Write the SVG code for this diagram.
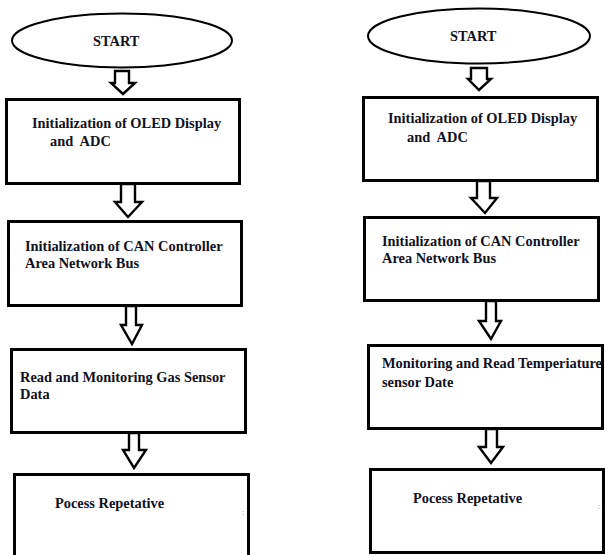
<svg xmlns="http://www.w3.org/2000/svg" width="605" height="555" viewBox="0 0 605 555">
<style>
.bg{fill:#ffffff}
.term{fill:#ffffff;stroke:#000;stroke-width:2}
.box{fill:#ffffff;stroke:#000;stroke-width:3}
.arr{fill:#ffffff;stroke:#000;stroke-width:2.4;stroke-linejoin:miter}
.t{font-family:"Liberation Serif","Times New Roman",serif;font-weight:bold;font-size:14.4px;fill:#111122}
.dot{font-family:"Liberation Sans",sans-serif;font-size:7px;fill:#4a6fa5}
</style>
<rect class="bg" x="0" y="0" width="605" height="555"/>

<g id="left-start">
<ellipse class="term" cx="122" cy="40.5" rx="110" ry="27"/>
<text class="t" x="93" y="46">START</text>
</g>
<g id="left-init-oled">
<rect class="box" x="6.5" y="99.5" width="233" height="84"/>
<text class="t" x="32" y="128">Initialization of OLED Display</text>
<text class="t" x="50" y="146" xml:space="preserve">and  ADC</text>
</g>
<g id="left-init-can">
<rect class="box" x="8.5" y="221.5" width="233" height="84"/>
<text class="t" x="25" y="251">Initialization of CAN Controller</text>
<text class="t" x="25" y="268">Area Network Bus</text>
</g>
<g id="left-read-gas">
<rect class="box" x="11.5" y="349.5" width="234" height="83"/>
<text class="t" x="20" y="382">Read and Monitoring Gas Sensor</text>
<text class="t" x="20" y="399">Data</text>
</g>
<g id="left-process">
<rect class="box" x="14.5" y="474.5" width="234" height="90"/>
<text class="t" x="55" y="508">Pocess Repetative</text>
<text class="dot" x="242" y="515">:</text>
</g>

<g id="right-start">
<ellipse class="term" cx="479" cy="36" rx="111" ry="27.5"/>
<text class="t" x="450" y="41">START</text>
</g>
<g id="right-init-oled">
<rect class="box" x="363.5" y="97.5" width="234" height="83"/>
<text class="t" x="388" y="123">Initialization of OLED Display</text>
<text class="t" x="407" y="142" xml:space="preserve">and  ADC</text>
</g>
<g id="right-init-can">
<rect class="box" x="364.5" y="217.5" width="234" height="83"/>
<text class="t" x="382" y="246">Initialization of CAN Controller</text>
<text class="t" x="382" y="263">Area Network Bus</text>
</g>
<g id="right-read-temp">
<rect class="box" x="368.5" y="345.5" width="234" height="83"/>
<text class="t" x="382" y="368">Monitoring and Read Temperiature</text>
<text class="t" x="382" y="387">sensor Date</text>
</g>
<g id="right-process">
<rect class="box" x="370.5" y="469.5" width="233" height="83"/>
<text class="t" x="413" y="503">Pocess Repetative</text>
<text class="dot" x="598" y="509">:</text>
</g>

<g id="connectors">
<polygon class="arr" points="115,71 129,71 129,83 135,83 123,94 111,83 115,83"/>
<polygon class="arr" points="121,184 135,184 135,202 142,202 128,217 115,202 121,202"/>
<polygon class="arr" points="126,306 136,306 136,325 142,325 132,344 121,325 126,325"/>
<polygon class="arr" points="129,433 139,433 139,450 146,450 134,468 123,450 129,450"/>
<polygon class="arr" points="471,68 487,68 487,79 491,79 479,90 468,79 471,79"/>
<polygon class="arr" points="477,181 490,181 490,198 497,198 485,213 471,198 477,198"/>
<polygon class="arr" points="486,301 496,301 496,321 501,321 491,339 479,321 486,321"/>
<polygon class="arr" points="486,429 497,429 497,447 503,447 491,463 479,447 486,447"/>
</g>
</svg>
